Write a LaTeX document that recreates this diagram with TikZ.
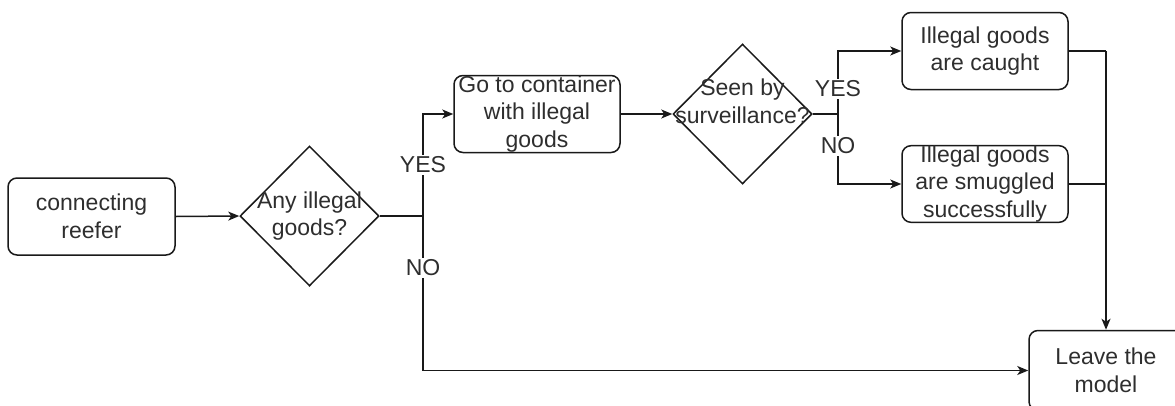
\documentclass[tikz,border=0pt]{standalone}
\usepackage{fontspec}
\setmainfont{Liberation Sans}
\usetikzlibrary{arrows.meta,shapes.geometric}
\tikzset{
  every node/.style={font=\fontsize{23}{27.6}\selectfont, text=black!82},
  stepbox/.style={draw=black!90, line width=1.5pt, rounded corners=9pt,
    inner sep=0pt, minimum width=166pt, minimum height=77pt, align=center},
  decision/.style={draw=black!90, line width=1.5pt, diamond, inner sep=0pt,
    minimum width=139pt, minimum height=140pt},
  qtext/.style={inner sep=0pt, align=center},
  tag/.style={fill=white, inner sep=1.5pt},
  link/.style={draw=black!90, line width=1.5pt},
  flow/.style={link, -{Stealth[length=11pt,width=9pt,inset=3pt]}},
}
\begin{document}
\begin{tikzpicture}[x=1pt,y=-1pt]
  \clip (0,0) rectangle (1175,405);

  % process boxes
  \node[stepbox, minimum width=167pt] (start) at (91.5,216.5) {connecting\\reefer};
  \node[stepbox] (go) at (537,114) {Go to container\\with illegal\\goods};
  \node[stepbox] (caught) at (985,51) {Illegal goods\\are caught};
  \node[stepbox, minimum height=76pt] (smug) at (985,184) {Illegal goods\\are smuggled\\successfully};
  \node[stepbox, minimum width=154pt, minimum height=80pt] (leave) at (1106,370.5) {Leave the\\model};

  % decisions
  \node[decision] (q1) at (309.5,216) {};
  \node[qtext] (q1t) at (309.5,216) {Any illegal\\goods?};
  \node[decision] (q2) at (742.5,114) {};
  \node[qtext] (q2t) at (742.5,101) {Seen by\\surveillance?};

  % junctions
  \coordinate (j1) at (423,216);
  \coordinate (j2) at (838,114);
  \coordinate (j3) at (1106,51);

  % connectors
  \draw[flow] (start.east) -- (q1.west);
  \draw[link] (q1.east) -- (j1);
  \draw[flow] (j1) |- (go.west);
  \draw[flow] (j1) |- (leave.west);
  \draw[flow] (go.east) -- (q2.west);
  \draw[link] (q2.east) -- (j2);
  \draw[flow] (j2) |- (caught.west);
  \draw[flow] (j2) |- (smug.west);
  \draw[link] (caught.east) -- (j3);
  \draw[link] (smug.east) -- (smug.east -| j3);
  \draw[flow] (j3) -- (leave.north);

  % branch labels
  \node[tag] (yes1) at (423,165) {YES};
  \node[tag] (no1) at (423,268) {NO};
  \node[tag] (yes2) at (838,89) {YES};
  \node[tag] (no2) at (838,146) {NO};
\end{tikzpicture}
\end{document}
